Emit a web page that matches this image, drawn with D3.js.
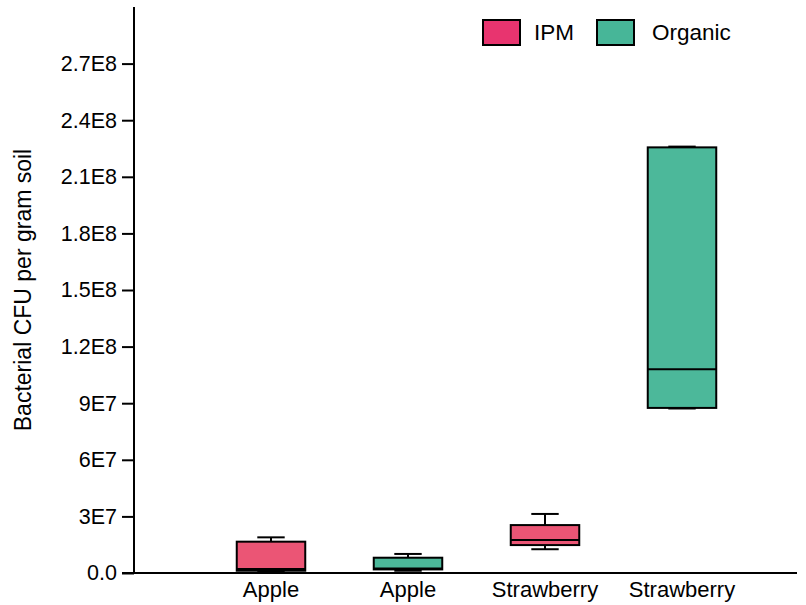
<!DOCTYPE html>
<html>
<head>
<meta charset="utf-8">
<script src="https://cdn.jsdelivr.net/npm/d3@7"></script>
<style>
  body { margin: 0; background: #fff; }
  svg text { font-family: "Liberation Sans", Arial, sans-serif; fill: #000; }
</style>
</head>
<body>
<svg id="chart" width="806" height="605"></svg>
<script>
// Soil bacterial counts by crop and management system
const categories = ["Apple", "Apple", "Strawberry", "Strawberry"];
const groups = ["IPM", "Organic", "IPM", "Organic"];
const whiskerMin = [6.0e5, 1.2e6, 1.26e7, 8.72e7];
const quartile1  = [1.2e6, 1.9e6, 1.48e7, 8.75e7];
const medians    = [2.1e6, 2.4e6, 1.75e7, 1.08e8];
const quartile3  = [1.66e7, 8.1e6, 2.54e7, 2.256e8];
const whiskerMax = [1.89e7, 1.01e7, 3.13e7, 2.26e8];
const yTicks = [0, 3e7, 6e7, 9e7, 1.2e8, 1.5e8, 1.8e8, 2.1e8, 2.4e8, 2.7e8];
const yTickLabels = ["0.0", "3E7", "6E7", "9E7", "1.2E8", "1.5E8", "1.8E8", "2.1E8", "2.4E8", "2.7E8"];
const legendKeys = ["IPM", "Organic"];

const legendColor = { IPM: "#e8346f", Organic: "#47b698" };
const boxColor = { IPM: "#eb5575", Organic: "#4cb89a" };

const svg = d3.select("#chart");
const plotLeft = 134, plotRight = 797, plotTop = 7, plotBottom = 573;

const y = d3.scaleLinear().domain([0, 3e8]).range([plotBottom, plotTop]);
const idx = d3.range(categories.length);
const x = d3.scaleBand().domain(idx)
  .range([plotLeft + 68.5, plotLeft + 68.5 + 137 * 4])
  .paddingInner(0.5).paddingOuter(0.25);

// y axis
const yAxis = d3.axisLeft(y)
  .tickValues(yTicks)
  .tickFormat((d, i) => yTickLabels[i])
  .tickSize(12)
  .tickPadding(5);
const yg = svg.append("g").attr("transform", `translate(${plotLeft},0)`).call(yAxis);
yg.select(".domain").attr("stroke", "#000").attr("stroke-width", 2).attr("d", `M0,${plotTop}V${plotBottom}`);
yg.selectAll(".tick line").attr("stroke", "#000").attr("stroke-width", 2);
yg.selectAll(".tick text").style("font-size", "21.5px").style("font-family", "Liberation Sans, Arial, sans-serif");

// x axis
const xAxis = d3.axisBottom(x).tickFormat(i => categories[i]).tickSize(0).tickPadding(8);
const xg = svg.append("g").attr("transform", `translate(0,${plotBottom})`).call(xAxis);
xg.select(".domain").attr("stroke", "#000").attr("stroke-width", 2).attr("d", `M${plotLeft - 12},0H${plotRight}`);
xg.selectAll(".tick text").style("font-size", "22px").style("font-family", "Liberation Sans, Arial, sans-serif");

// y axis title
svg.append("text")
  .attr("transform", `translate(31,${(plotTop + plotBottom) / 2}) rotate(-90)`)
  .attr("text-anchor", "middle")
  .style("font-size", "23px")
  .text("Bacterial CFU per gram soil");

// boxes
const bw = x.bandwidth();
const capW = bw * 0.4;
const boxes = svg.append("g");
idx.forEach(i => {
  const cx = x(i) + bw / 2;
  const g = boxes.append("g");
  // whiskers
  g.append("line").attr("x1", cx).attr("x2", cx)
    .attr("y1", y(whiskerMax[i])).attr("y2", y(quartile3[i]))
    .attr("stroke", "#000").attr("stroke-width", 2);
  g.append("line").attr("x1", cx).attr("x2", cx)
    .attr("y1", y(whiskerMin[i])).attr("y2", y(quartile1[i]))
    .attr("stroke", "#000").attr("stroke-width", 2);
  g.append("line").attr("x1", cx - capW / 2).attr("x2", cx + capW / 2)
    .attr("y1", y(whiskerMax[i])).attr("y2", y(whiskerMax[i]))
    .attr("stroke", "#000").attr("stroke-width", 2);
  g.append("line").attr("x1", cx - capW / 2).attr("x2", cx + capW / 2)
    .attr("y1", y(whiskerMin[i])).attr("y2", y(whiskerMin[i]))
    .attr("stroke", "#000").attr("stroke-width", 2);
  // box
  g.append("rect")
    .attr("x", x(i)).attr("width", bw)
    .attr("y", y(quartile3[i])).attr("height", y(quartile1[i]) - y(quartile3[i]))
    .attr("fill", boxColor[groups[i]])
    .attr("stroke", "#000").attr("stroke-width", 2);
  // median
  g.append("line").attr("x1", x(i)).attr("x2", x(i) + bw)
    .attr("y1", y(medians[i])).attr("y2", y(medians[i]))
    .attr("stroke", "#000").attr("stroke-width", 2);
});

// legend
const legend = svg.append("g");
const swatchX = [483, 597];
const labelX = [534, 652];
legendKeys.forEach((k, i) => {
  legend.append("rect")
    .attr("x", swatchX[i]).attr("y", 20).attr("width", 37).attr("height", 25)
    .attr("fill", legendColor[k]).attr("stroke", "#000").attr("stroke-width", 2);
  legend.append("text")
    .attr("x", labelX[i]).attr("y", 40)
    .style("font-size", "22.5px")
    .text(k);
});
</script>
</body>
</html>
